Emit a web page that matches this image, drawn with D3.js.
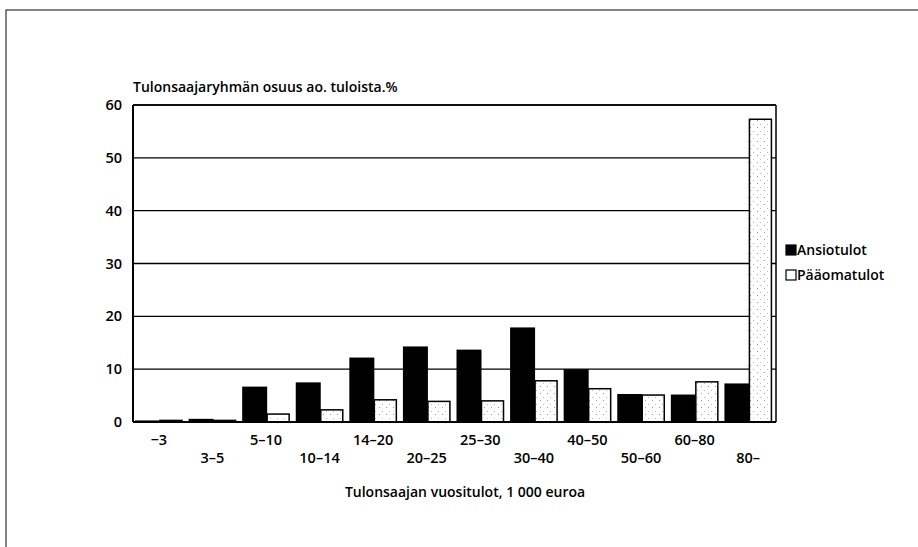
<!DOCTYPE html>
<html><head><meta charset="utf-8">
<script src="https://cdn.jsdelivr.net/npm/d3@7"></script>
<style>
body{margin:0;background:#fff;}
text{font-family:"Open Sans",sans-serif;font-weight:600;fill:#000;}
</style></head>
<body><svg id="c" width="918" height="547"></svg>
<script>
const categories = ["\u22123","3\u20135","5\u201310","10\u201314","14\u201320","20\u201325","25\u201330","30\u201340","40\u201350","50\u201360","60\u201380","80\u2013"];
const ansiotulot = [0.3,0.6,6.7,7.5,12.2,14.3,13.7,17.9,10.0,5.3,5.2,7.3];
const paaomatulot = [0.3,0.3,1.5,2.3,4.2,3.9,4.0,7.8,6.3,5.1,7.6,57.3];
const seriesNames = ["Ansiotulot","Pääomatulot"];
const yTicks = [0,10,20,30,40,50,60];
const yTitle = "Tulonsaajaryhmän osuus ao. tuloista.%";
const xTitle = "Tulonsaajan vuositulot, 1 000 euroa";

const svg = d3.select("#c");
const defs = svg.append("defs");
const pat = defs.append("pattern").attr("id","dots").attr("patternUnits","userSpaceOnUse").attr("width",7).attr("height",7);
pat.append("rect").attr("width",7).attr("height",7).attr("fill","#fff");
pat.append("rect").attr("x",1).attr("y",1).attr("width",1).attr("height",1).attr("fill","#999");
pat.append("rect").attr("x",4).attr("y",5).attr("width",1).attr("height",1).attr("fill","#bbb");

svg.append("rect").attr("x",6).attr("y",10).attr("width",930).attr("height",560)
  .attr("fill","none").attr("stroke","#333").attr("stroke-width",1.2);

const L=133, R=776, T=105, B=422;
const x = d3.scaleBand().domain(categories).range([L,R]).paddingInner(0).paddingOuter(0);
const y = d3.scaleLinear().domain([0,60]).range([B,T]);

svg.append("g").selectAll("line").data(yTicks.filter(d=>d>0)).join("line")
  .attr("x1",L).attr("x2",R).attr("y1",d=>y(d)).attr("y2",d=>y(d))
  .attr("stroke","#000").attr("stroke-width",1.3);

const bw = x.bandwidth();
const blackW = 25, whiteW = 22, off = 2;
svg.append("g").selectAll("rect").data(categories).join("rect")
  .attr("x",d=>x(d)+off).attr("width",blackW)
  .attr("y",(d,i)=>y(ansiotulot[i])).attr("height",(d,i)=>B-y(ansiotulot[i]))
  .attr("fill","#000");
svg.append("g").selectAll("rect").data(categories).join("rect")
  .attr("x",d=>x(d)+off+blackW).attr("width",whiteW)
  .attr("y",(d,i)=>y(paaomatulot[i])).attr("height",(d,i)=>B-y(paaomatulot[i]))
  .attr("fill","url(#dots)").attr("stroke","#000").attr("stroke-width",1.5);

svg.append("line").attr("x1",L).attr("x2",L).attr("y1",T).attr("y2",B).attr("stroke","#000").attr("stroke-width",2);
svg.append("line").attr("x1",R).attr("x2",R).attr("y1",T).attr("y2",B).attr("stroke","#000").attr("stroke-width",1.5);
svg.append("line").attr("x1",L).attr("x2",R).attr("y1",B).attr("y2",B).attr("stroke","#000").attr("stroke-width",2);
svg.append("line").attr("x1",L).attr("x2",R).attr("y1",T).attr("y2",T).attr("stroke","#000").attr("stroke-width",1.5);

svg.append("g").selectAll("text").data(yTicks).join("text")
  .attr("x",122).attr("y",d=>y(d)+5).attr("text-anchor","end")
  .style("font-size","14.5px").text(d=>d);

svg.append("g").selectAll("text").data(categories).join("text")
  .attr("x",d=>x(d)+bw/2-1).attr("y",(d,i)=>i%2===0?445:463)
  .attr("text-anchor","middle").style("font-size","14.5px").text(d=>d);

svg.append("text").attr("x",133).attr("y",92).style("font-size","14px").text(yTitle);
svg.append("text").attr("x",465).attr("y",497).attr("text-anchor","middle").style("font-size","14px").text(xTitle);

const lg = svg.append("g");
seriesNames.forEach((s,i)=>{
  const yy = 245 + i*25;
  lg.append("rect").attr("x",786).attr("y",yy).attr("width",10).attr("height",10)
    .attr("fill",i===0?"#000":"#fff").attr("stroke","#000").attr("stroke-width",1.2);
  lg.append("text").attr("x",797).attr("y",yy+10).style("font-size","14px").text(s);
});
</script></body></html>
